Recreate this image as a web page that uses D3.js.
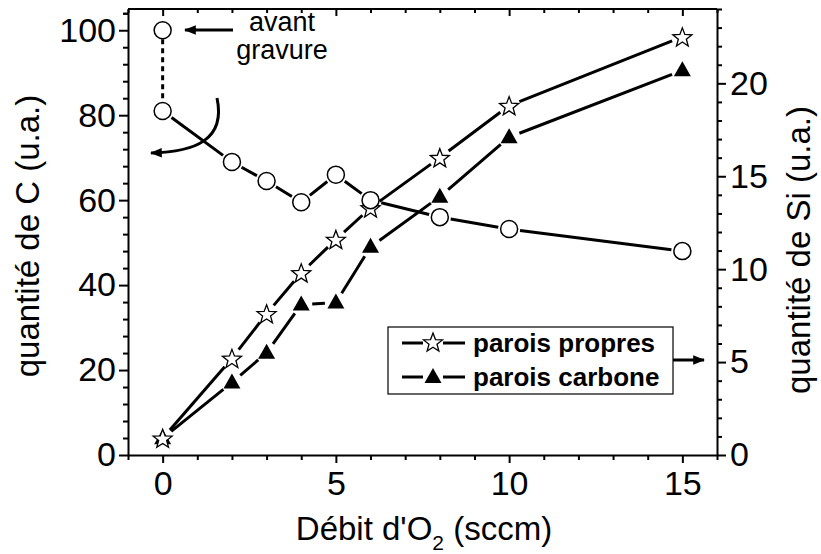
<!DOCTYPE html>
<html>
<head>
<meta charset="utf-8">
<script src="https://cdn.jsdelivr.net/npm/d3@7"></script>
<style>
  body { margin: 0; background: #fff; }
  svg { display: block; font-family: "Liberation Sans", Arial, sans-serif; }
  .axis path, .axis line { stroke: #000; stroke-width: 2; }
  .axis text { fill: #000; }
  .title { font-size: 33px; fill: #000; }
  .note { font-size: 27px; fill: #000; }
</style>
</head>
<body>
<svg id="chart" width="821" height="554"></svg>
<script>
// data
const debitO2 = [0, 2, 3, 4, 5, 6, 8, 10, 15];
const carboneC = [81, 69, 64.5, 59.5, 66, 60, 56, 53.2, 48];       // circles, left axis
const avantGravure = 100;                                         // circle at x = 0 before etching
const siPropres = [0.9, 5.2, 7.6, 9.8, 11.6, 13.3, 16.0, 18.8, 22.5]; // stars, right axis
const siCarbone = [0.9, 3.9, 5.5, 8.1, 8.2, 11.2, 13.9, 17.1, 20.7];  // triangles, right axis

const xMajor = [0, 5, 10, 15];
const yLeftMajor = [0, 20, 40, 60, 80, 100];
const yRightMajor = [0, 5, 10, 15, 20];
const legendLabels = ['parois propres', 'parois carbone'];

const svg = d3.select('#chart');

// dimension stuff
const plotLeft = 128, plotRight = 717, plotTop = 9, plotBottom = 455;

// scales
const x = d3.scaleLinear().domain([-1, 16]).range([plotLeft, plotRight]);
const yL = d3.scaleLinear().domain([0, 105]).range([plotBottom, plotTop]);
const yR = d3.scaleLinear().domain([0, 24]).range([plotBottom, plotTop]);

// top frame line
svg.append('line')
  .attr('x1', plotLeft).attr('x2', plotRight).attr('y1', plotTop).attr('y2', plotTop)
  .attr('stroke', '#000').attr('stroke-width', 2);

// minor ticks
const xMinor = d3.range(-1, 17, 1).filter(v => !xMajor.includes(v));
const yLMinor = d3.range(0, 105, 4).filter(v => !yLeftMajor.includes(v));
const yRMinor = d3.range(0, 25, 1).filter(v => !yRightMajor.includes(v));

function addAxis(axis, transform, minorVals, minorSize) {
  const g = svg.append('g').attr('class', 'axis').attr('transform', transform);
  g.call(axis);
  g.selectAll('text').attr('font-size', 34);
  g.append('g')
    .call(axis.tickValues(minorVals).tickSize(minorSize).tickFormat(''))
    .select('.domain').remove();
  return g;
}

addAxis(d3.axisBottom(x).tickValues(xMajor).tickSize(8).tickSizeOuter(0).tickPadding(8),
  `translate(0,${plotBottom})`, xMinor, 5);
addAxis(d3.axisLeft(yL).tickValues(yLeftMajor).tickSize(9).tickSizeOuter(0).tickPadding(3),
  `translate(${plotLeft},0)`, yLMinor.concat([104]), 5);
addAxis(d3.axisRight(yR).tickValues(yRightMajor).tickSize(9).tickSizeOuter(0).tickPadding(4),
  `translate(${plotRight},0)`, yRMinor, 5);

// top ticks, mirrored inward
const topG = svg.append('g').attr('class', 'axis').attr('transform', `translate(0,${plotTop})`);
topG.call(d3.axisBottom(x).tickValues(xMajor).tickSize(7).tickFormat(''));
topG.append('g').call(d3.axisBottom(x).tickValues(xMinor).tickSize(4).tickFormat(''));
topG.selectAll('.domain').remove();

// axis titles
svg.append('text').attr('class', 'title')
  .attr('transform', `translate(39,236) rotate(-90)`)
  .attr('text-anchor', 'middle')
  .text('quantité de C (u.a.)');

svg.append('text').attr('class', 'title')
  .attr('transform', `translate(810,250) rotate(-90)`)
  .attr('text-anchor', 'middle')
  .text('quantité de Si (u.a.)');

const xt = svg.append('text').attr('class', 'title')
  .attr('x', 424).attr('y', 540).attr('text-anchor', 'middle');
xt.append('tspan').text("Débit d'O");
xt.append('tspan').style('font-size', '21px').attr('dy', 10).text('2');
xt.append('tspan').attr('dy', -10).text(' (sccm)');

// lines with gaps around the symbols
function gapLine(pts, gap) {
  for (let i = 0; i < pts.length - 1; i++) {
    const [x1, y1] = pts[i], [x2, y2] = pts[i + 1];
    const dx = x2 - x1, dy = y2 - y1, len = Math.hypot(dx, dy);
    if (len < 2 * gap) continue;
    const ux = dx / len, uy = dy / len;
    svg.append('line')
      .attr('x1', x1 + ux * gap).attr('y1', y1 + uy * gap)
      .attr('x2', x2 - ux * gap).attr('y2', y2 - uy * gap)
      .attr('stroke', '#000').attr('stroke-width', 3);
  }
}

const ptsC = debitO2.map((d, i) => [x(d), yL(carboneC[i])]);
const ptsP = debitO2.map((d, i) => [x(d), yR(siPropres[i])]);
const ptsK = debitO2.map((d, i) => [x(d), yR(siCarbone[i])]);

gapLine(ptsK, 11);
gapLine(ptsP, 11);
gapLine(ptsC, 11);

// dotted link to "avant gravure"
svg.append('line')
  .attr('x1', x(0)).attr('x2', x(0))
  .attr('y1', yL(avantGravure) + 9).attr('y2', yL(carboneC[0]) - 9)
  .attr('stroke', '#000').attr('stroke-width', 3)
  .attr('stroke-dasharray', '5,4');

// symbols
const starPath = (() => {
  const p = [];
  for (let i = 0; i < 10; i++) {
    const r = i % 2 === 0 ? 10 : 4.2;
    const a = -Math.PI / 2 + i * Math.PI / 5;
    p.push([r * Math.cos(a), r * Math.sin(a) + 1]);
  }
  return 'M' + p.map(d => d.join(',')).join('L') + 'Z';
})();
const triPath = 'M0,-9L8.5,6L-8.5,6Z';

svg.selectAll('.tri').data(ptsK).join('path')
  .attr('class', 'tri')
  .attr('d', triPath)
  .attr('transform', d => `translate(${d[0]},${d[1]})`)
  .attr('fill', '#000');

svg.selectAll('.star').data(ptsP).join('path')
  .attr('class', 'star')
  .attr('d', starPath)
  .attr('transform', d => `translate(${d[0]},${d[1]})`)
  .attr('fill', '#fff').attr('stroke', '#000').attr('stroke-width', 1.3);

svg.selectAll('.circ').data(ptsC.concat([[x(0), yL(avantGravure)]])).join('circle')
  .attr('class', 'circ')
  .attr('cx', d => d[0]).attr('cy', d => d[1]).attr('r', 8.5)
  .attr('fill', '#fff').attr('stroke', '#000').attr('stroke-width', 1.5);

// arrows
const defs = svg.append('defs');
defs.append('marker').attr('id', 'arr')
  .attr('viewBox', '0 0 10 10').attr('refX', 9).attr('refY', 5)
  .attr('markerWidth', 4).attr('markerHeight', 4).attr('orient', 'auto')
  .append('path').attr('d', 'M0,1L10,5L0,9Z').attr('fill', '#000');

svg.append('line')
  .attr('x1', 233).attr('y1', 30).attr('x2', 185).attr('y2', 30)
  .attr('stroke', '#000').attr('stroke-width', 3).attr('marker-end', 'url(#arr)');

svg.append('path')
  .attr('d', 'M217,98 C226,140 195,152 151,153')
  .attr('fill', 'none').attr('stroke', '#000').attr('stroke-width', 3)
  .attr('marker-end', 'url(#arr)');

svg.append('line')
  .attr('x1', 673).attr('y1', 360).attr('x2', 704).attr('y2', 360)
  .attr('stroke', '#000').attr('stroke-width', 3).attr('marker-end', 'url(#arr)');

// annotation text
svg.append('text').attr('class', 'note').attr('x', 282).attr('y', 31)
  .attr('text-anchor', 'middle').text('avant');
svg.append('text').attr('class', 'note').attr('x', 282).attr('y', 59)
  .attr('text-anchor', 'middle').text('gravure');

// legend
const lg = svg.append('g');
lg.append('rect')
  .attr('x', 388).attr('y', 327).attr('width', 285).attr('height', 67)
  .attr('fill', '#fff').attr('stroke', '#000').attr('stroke-width', 1.2);

const legendRows = [343, 377];
legendRows.forEach((ly, i) => {
  lg.append('line').attr('x1', 402).attr('x2', 423).attr('y1', ly).attr('y2', ly)
    .attr('stroke', '#000').attr('stroke-width', 3);
  lg.append('line').attr('x1', 443).attr('x2', 465).attr('y1', ly).attr('y2', ly)
    .attr('stroke', '#000').attr('stroke-width', 3);
  if (i === 0) {
    lg.append('path').attr('d', starPath).attr('transform', `translate(433,${ly - 1})`)
      .attr('fill', '#fff').attr('stroke', '#000').attr('stroke-width', 1.3);
  } else {
    lg.append('path').attr('d', triPath).attr('transform', `translate(433,${ly})`)
      .attr('fill', '#000');
  }
  lg.append('text').attr('x', 473).attr('y', ly + 9)
    .attr('font-size', 26).attr('font-weight', 'bold')
    .text(legendLabels[i]);
});
</script>
</body>
</html>
